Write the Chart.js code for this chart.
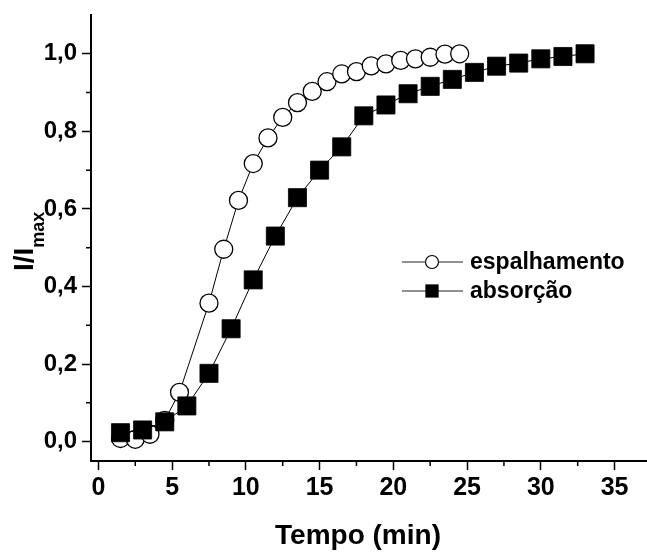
<!DOCTYPE html>
<html>
<head>
<meta charset="utf-8">
<script src="https://cdn.jsdelivr.net/npm/chart.js@4.4.1/dist/chart.umd.min.js"></script>
<style>
  html, body { margin: 0; padding: 0; background: #fff; }
  #wrap { width: 647px; height: 552px; }
</style>
</head>
<body>
<div id="wrap"><canvas id="curva" width="647" height="552"></canvas></div>
<script>
// tempo (min) e I/Imax
var tempoEsp = [1.5, 2.5, 3.5, 4.5, 5.5, 7.5, 8.5, 9.5, 10.5, 11.5, 12.5, 13.5, 14.5, 15.5, 16.5, 17.5, 18.5, 19.5, 20.5, 21.5, 22.5, 23.5, 24.5];
var espalhamento = [0.008, 0.006, 0.019, 0.055, 0.127, 0.357, 0.496, 0.622, 0.717, 0.783, 0.836, 0.874, 0.903, 0.928, 0.948, 0.954, 0.969, 0.974, 0.983, 0.987, 0.991, 0.999, 1.0];
var tempoAbs = [1.5, 3, 4.5, 6, 7.5, 9, 10.5, 12, 13.5, 15, 16.5, 18, 19.5, 21, 22.5, 24, 25.5, 27, 28.5, 30, 31.5, 33];
var absorcao = [0.023, 0.030, 0.051, 0.092, 0.176, 0.291, 0.417, 0.530, 0.629, 0.700, 0.760, 0.840, 0.868, 0.897, 0.916, 0.934, 0.952, 0.968, 0.976, 0.987, 0.993, 1.0];

var xTicks = [0, 5, 10, 15, 20, 25, 30, 35];
var xMinor = [2.5, 7.5, 12.5, 17.5, 22.5, 27.5, 32.5];
var yTicks = [0, 0.2, 0.4, 0.6, 0.8, 1.0];
var yMinor = [0.1, 0.3, 0.5, 0.7, 0.9];
var nomes = ['espalhamento', 'absorção'];

var FONTE = '"Liberation Sans", Arial, sans-serif';

function pares(xs, ys) {
    return xs.map(function (x, i) { return { x: x, y: ys[i] }; });
}

// ticks menores, titulos dos eixos e legenda
var extras = {
    id: 'extras',
    afterDraw: function (chart) {
        var ctx = chart.ctx;
        var sx = chart.scales.x, sy = chart.scales.y, area = chart.chartArea;
        ctx.save();
        ctx.strokeStyle = '#000';
        ctx.lineWidth = 1.5;
        ctx.beginPath();
        xMinor.forEach(function (v) {
            var px = sx.getPixelForValue(v);
            ctx.moveTo(px, area.bottom);
            ctx.lineTo(px, area.bottom + 5);
        });
        yMinor.forEach(function (v) {
            var py = sy.getPixelForValue(v);
            ctx.moveTo(area.left, py);
            ctx.lineTo(area.left - 5, py);
        });
        ctx.stroke();

        // titulo do eixo y: I/I com subscrito max
        ctx.save();
        ctx.translate(33, 271);
        ctx.rotate(-Math.PI / 2);
        ctx.fillStyle = '#000';
        ctx.textAlign = 'left';
        ctx.textBaseline = 'alphabetic';
        ctx.font = 'bold 28px ' + FONTE;
        ctx.fillText('I/I', 0, 0);
        var w = ctx.measureText('I/I').width;
        ctx.font = 'bold 18px ' + FONTE;
        ctx.fillText('max', w, 10.5);
        ctx.restore();

        // titulo do eixo x
        ctx.fillStyle = '#000';
        ctx.font = 'bold 28px ' + FONTE;
        ctx.textAlign = 'center';
        ctx.textBaseline = 'alphabetic';
        ctx.fillText('Tempo (min)', 358, 544);

        // legenda
        var ly = [262, 291];
        var estilos = [
            { pointStyle: 'circle', radius: 6.5, borderWidth: 1.2, fill: '#fff' },
            { pointStyle: 'rect', radius: 9, borderWidth: 0.5, fill: '#000' }
        ];
        ctx.font = 'bold 23px ' + FONTE;
        ctx.textAlign = 'left';
        ctx.textBaseline = 'middle';
        nomes.forEach(function (nome, i) {
            ctx.strokeStyle = '#222';
            ctx.lineWidth = 1;
            ctx.beginPath();
            ctx.moveTo(402, ly[i]);
            ctx.lineTo(463, ly[i]);
            ctx.stroke();
            ctx.fillStyle = estilos[i].fill;
            ctx.strokeStyle = '#000';
            ctx.lineWidth = estilos[i].borderWidth;
            Chart.helpers.drawPoint(ctx, {
                pointStyle: estilos[i].pointStyle,
                radius: estilos[i].radius,
                borderWidth: estilos[i].borderWidth,
                rotation: 0
            }, 432, ly[i]);
            ctx.fillStyle = '#000';
            ctx.fillText(nome, 470, ly[i] + 1);
        });
        ctx.restore();
    }
};

var ctx = document.getElementById('curva').getContext('2d');
var chart = new Chart(ctx, {
    type: 'line',
    data: {
        datasets: [{
            label: nomes[0],
            data: pares(tempoEsp, espalhamento),
            borderColor: '#000',
            borderWidth: 1,
            backgroundColor: '#fff',
            pointStyle: 'circle',
            pointRadius: 9,
            pointBorderWidth: 1.3,
            pointBackgroundColor: '#fff',
            pointBorderColor: '#000',
            tension: 0,
            order: 2
        }, {
            label: nomes[1],
            data: pares(tempoAbs, absorcao),
            borderColor: '#000',
            borderWidth: 1,
            backgroundColor: '#000',
            pointStyle: 'rect',
            pointRadius: 12.8,
            pointBorderWidth: 0.8,
            pointBackgroundColor: '#000',
            pointBorderColor: '#000',
            tension: 0,
            order: 1
        }]
    },
    options: {
        responsive: false,
        animation: false,
        events: [],
        layout: { autoPadding: false, padding: { top: 15, right: 0, bottom: 0, left: 0 } },
        plugins: {
            legend: { display: false },
            tooltip: { enabled: false }
        },
        scales: {
            x: {
                type: 'linear',
                min: -0.5,
                max: 37.2,
                afterBuildTicks: function (axis) {
                    axis.ticks = xTicks.map(function (v) { return { value: v }; });
                },
                afterFit: function (scale) {
                    scale.height = 91;
                    scale.paddingLeft = 0;
                    scale.paddingRight = 0;
                },
                border: { display: true, color: '#000', width: 2 },
                grid: { drawOnChartArea: false, drawTicks: true, tickLength: 9, tickColor: '#000', tickWidth: 1.5 },
                ticks: {
                    padding: 3,
                    color: '#000',
                    maxRotation: 0,
                    font: { family: FONTE, size: 25, weight: 'bold' },
                    callback: function (v) { return String(v); }
                }
            },
            y: {
                type: 'linear',
                min: -0.05,
                max: 1.1,
                afterBuildTicks: function (axis) {
                    axis.ticks = yTicks.map(function (v) { return { value: v }; });
                },
                afterFit: function (scale) {
                    scale.width = 91;
                    scale.paddingTop = 0;
                    scale.paddingBottom = 0;
                },
                border: { display: true, color: '#000', width: 2 },
                grid: { drawOnChartArea: false, drawTicks: true, tickLength: 9, tickColor: '#000', tickWidth: 1.5 },
                ticks: {
                    padding: 5,
                    color: '#000',
                    font: { family: FONTE, size: 24, weight: 'bold' },
                    callback: function (v) { return v.toFixed(1).replace('.', ','); }
                }
            }
        }
    },
    plugins: [extras]
});
</script>
</body>
</html>
